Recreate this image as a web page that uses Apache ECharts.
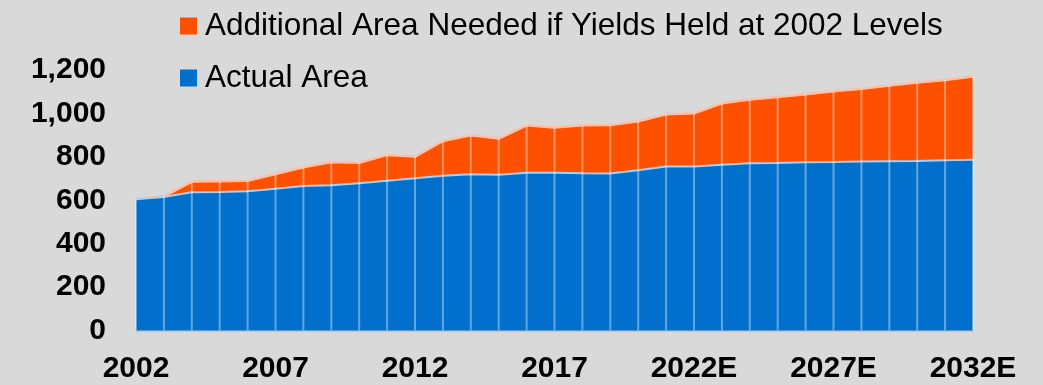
<!DOCTYPE html>
<html>
<head>
<meta charset="utf-8">
<script src="https://cdn.jsdelivr.net/npm/echarts@6/dist/echarts.min.js"></script>
<style>
html,body{margin:0;padding:0;background:#D9D9D9;}
#chart{width:1043px;height:385px;}
</style>
</head>
<body>
<div id="chart"></div>
<script>
const years = ['2002','2003','2004','2005','2006','2007','2008','2009','2010','2011','2012','2013','2014','2015','2016','2017','2018','2019','2020','2021','2022E','2023E','2024E','2025E','2026E','2027E','2028E','2029E','2030E','2031E','2032E'];
const actualArea = [605,615,637,638,641,653,666,669,678,690,701,713,720,718,727,727,724,723,738,755,755,763,770,772,775,776,778,780,781,784,786];
const additionalArea = [0,3,49,50,49,68,86,107,95,119,100,160,179,166,218,208,221,224,226,241,246,284,294,304,313,326,336,348,361,370,384];
const yTicks = [0,200,400,600,800,1000,1200];
const seriesNames = ['Actual Area','Additional Area Needed if Yields Held at 2002 Levels'];

const totals = actualArea.map((v,i)=>v+additionalArea[i]);
const font = "'Liberation Sans', Arial, sans-serif";

const chart = echarts.init(document.getElementById('chart'));
chart.setOption({
  backgroundColor:'#D9D9D9',
  animation:false,
  legend:{
    data:[seriesNames[1],seriesNames[0]],
    orient:'vertical',
    left:175, top:5,
    itemWidth:17, itemHeight:17,
    itemGap:20,
    icon:'rect',
    textStyle:{fontFamily:font,fontSize:31.5,color:'#000',padding:[0,0,0,3]}
  },
  grid:{left:136,right:70,top:70,bottom:54.5},
  xAxis:{
    type:'category',
    data:years,
    boundaryGap:false,
    axisLine:{lineStyle:{color:'#BFBFBF',width:1.5}},
    axisTick:{show:false},
    axisLabel:{interval:4,fontFamily:font,fontSize:30,fontWeight:'bold',color:'#000',margin:23},
    splitLine:{show:false}
  },
  yAxis:{
    type:'value',
    min:yTicks[0], max:yTicks[yTicks.length-1], interval:200,
    axisLine:{show:false},
    axisTick:{show:false},
    splitLine:{show:false},
    axisLabel:{fontFamily:font,fontSize:30,fontWeight:'bold',color:'#000',margin:30,
      formatter:v=>v.toLocaleString('en-US')}
  },
  series:[
    {
      name:seriesNames[0], type:'line', stack:'area', data:actualArea,
      symbol:'none', z:3,
      lineStyle:{color:'#A6CFF2',width:2},
      itemStyle:{color:'#0070CC'},
      areaStyle:{color:'#0070CC',opacity:1}
    },
    {
      name:seriesNames[1], type:'line', stack:'area', data:additionalArea,
      symbol:'none', z:2,
      lineStyle:{color:'#FFBFA5',width:2.5},
      itemStyle:{color:'#FF5000'},
      areaStyle:{color:'#FF5000',opacity:1}
    },
    {
      name:'dividers', type:'bar', data:totals,
      barWidth:2, z:4, silent:true,
      itemStyle:{color:'rgba(255,255,255,0.38)'}
    }
  ]
});
</script>
</body>
</html>
